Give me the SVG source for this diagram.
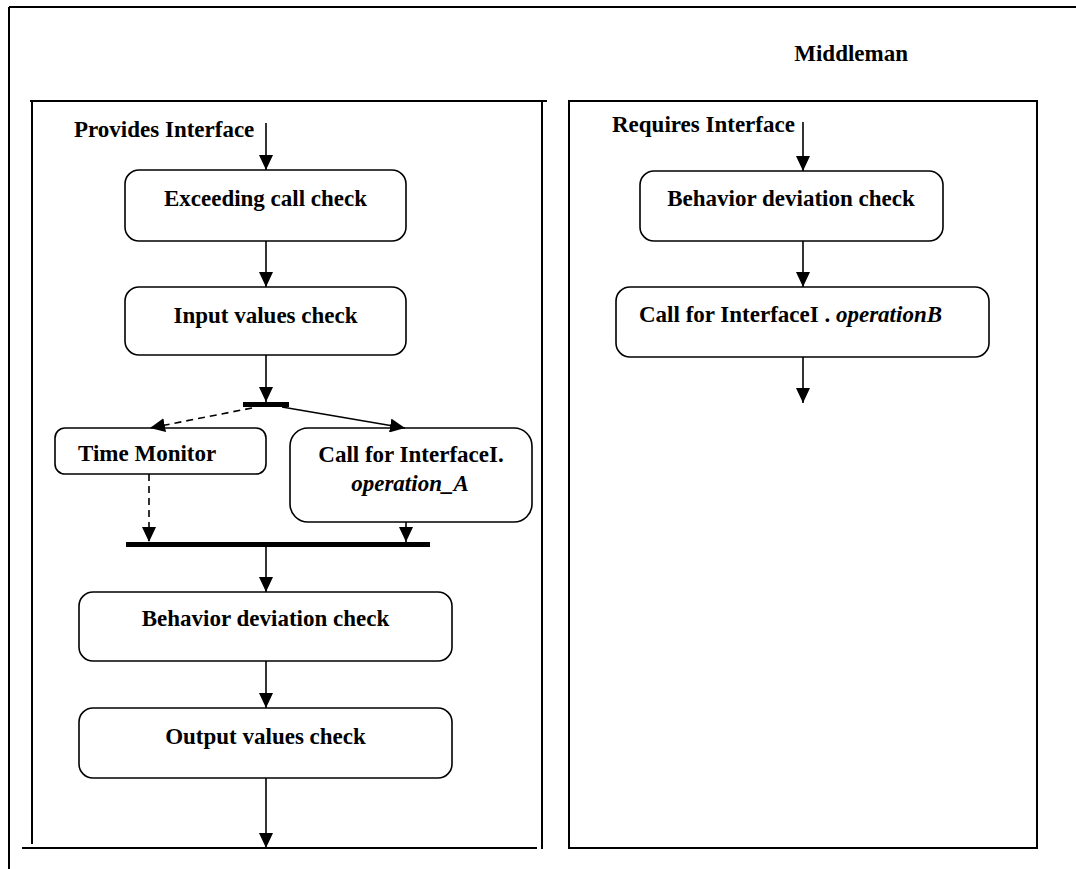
<svg xmlns="http://www.w3.org/2000/svg" width="1076" height="869" viewBox="0 0 1076 869">
  <style>
    .frame { fill: none; stroke: #000; stroke-width: 2; }
    .box { fill: #fff; stroke: #000; stroke-width: 1.6; }
    .bar { fill: #000; }
    .lbl { font-weight: bold; font-size: 23px; fill: #000; }
    .mid { text-anchor: middle; }
    .it { font-style: italic; }
    .edge { fill: none; stroke: #000; stroke-width: 1.6; marker-end: url(#head); }
    .dash { stroke-dasharray: 7 5; }
  </style>
  <defs>
    <marker id="head" markerUnits="userSpaceOnUse" markerWidth="15" markerHeight="14" viewBox="0 0 15 14" refX="15" refY="7" orient="auto">
      <path d="M0,0 L15,7 L0,14 z" fill="#000"/>
    </marker>
  </defs>
  <rect width="1076" height="869" fill="#fff"/>

  <g font-family="'Liberation Serif', 'Times New Roman', 'DejaVu Serif', serif">
  <!-- outer frame (open on right and bottom) -->
  <g id="outer">
    <path class="frame" d="M9,7 H1076 M9,7 V869"/>
    <text class="lbl" x="908" y="61" text-anchor="end">Middleman</text>
  </g>

  <!-- provides-interface panel -->
  <g id="panel-provides">
    <path class="frame" d="M30,101 H547 M32,101 V844 M542,101 V849 M22,848 H537"/>
    <text class="lbl" x="74" y="137">Provides Interface</text>
  </g>

  <!-- requires-interface panel -->
  <g id="panel-requires">
    <rect class="frame" x="569" y="101" width="468" height="747"/>
    <text class="lbl" x="612" y="132">Requires Interface</text>
  </g>

  <g id="exceeding-call-check">
    <rect class="box" x="125" y="170" width="281" height="71" rx="14"/>
    <text class="lbl mid" x="265.5" y="206">Exceeding call check</text>
  </g>

  <g id="input-values-check">
    <rect class="box" x="125" y="287" width="281" height="68" rx="14"/>
    <text class="lbl mid" x="265.5" y="323">Input values check</text>
  </g>

  <g id="fork">
    <rect class="bar" x="243" y="402" width="46" height="5"/>
  </g>

  <g id="time-monitor">
    <rect class="box" x="55" y="428" width="211" height="46" rx="10"/>
    <text class="lbl" x="78" y="461">Time Monitor</text>
  </g>

  <g id="call-operation-a">
    <rect class="box" x="290" y="428" width="242" height="94" rx="18"/>
    <text class="lbl mid" x="411" y="462">Call for InterfaceI.</text>
    <text class="lbl mid it" x="410" y="491">operation_A</text>
  </g>

  <g id="join">
    <rect class="bar" x="126" y="542" width="304" height="5"/>
  </g>

  <g id="behavior-deviation-check-left">
    <rect class="box" x="79" y="592" width="373" height="69" rx="14"/>
    <text class="lbl mid" x="265.5" y="626">Behavior deviation check</text>
  </g>

  <g id="output-values-check">
    <rect class="box" x="79" y="708" width="373" height="70" rx="14"/>
    <text class="lbl mid" x="265.5" y="744">Output values check</text>
  </g>

  <g id="behavior-deviation-check-right">
    <rect class="box" x="640" y="171" width="303" height="70" rx="14"/>
    <text class="lbl mid" x="791" y="206">Behavior deviation check</text>
  </g>

  <g id="call-operation-b">
    <rect class="box" x="616" y="287" width="373" height="70" rx="14"/>
    <text class="lbl" x="639" y="322">Call for InterfaceI . <tspan class="it">operationB</tspan></text>
  </g>
  </g>

  <!-- connectors -->
  <g id="connectors">
    <path class="edge" d="M266,123 V170"/>
    <path class="edge" d="M266,241 V287"/>
    <path class="edge" d="M266,355 V402"/>
    <path class="edge dash" d="M252,408 L150,428"/>
    <path class="edge" d="M282,407 L405,428"/>
    <path class="edge dash" d="M149,474 V542"/>
    <path class="edge" d="M406,522 V542"/>
    <path class="edge" d="M266,547 V592"/>
    <path class="edge" d="M266,661 V708"/>
    <path class="edge" d="M266,778 V848"/>
    <path class="edge" d="M803,122 V171"/>
    <path class="edge" d="M803,241 V287"/>
    <path class="edge" d="M803,357 V403"/>
  </g>
</svg>
